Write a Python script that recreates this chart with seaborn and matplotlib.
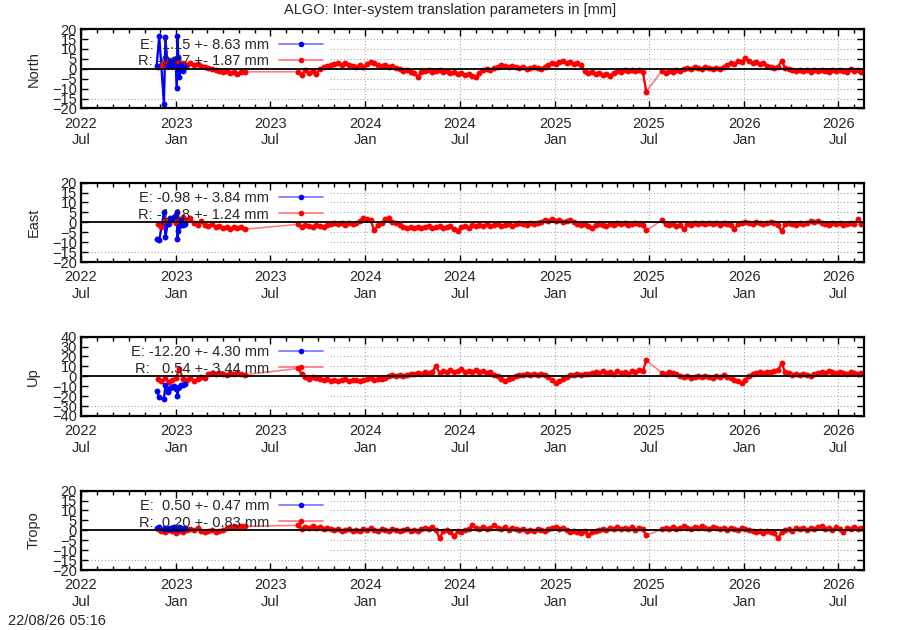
import pandas as pd
import seaborn as sns
import matplotlib.pyplot as plt
import matplotlib.dates as mdates
from matplotlib.lines import Line2D

# epochs of the E solution (only a few weeks at the start)
e_dates = ["2022-11-24", "2022-11-29", "2022-12-08", "2022-12-11", "2022-12-15",
           "2022-12-19", "2022-12-23", "2022-12-27", "2022-12-31", "2023-01-02",
           "2023-01-03", "2023-01-05", "2023-01-07", "2023-01-10", "2023-01-14",
           "2023-01-18"]
north_e = [1.5, 16.5, -17.5, 16.0, 1.5, 4.0, 2.0, 5.0, 1.0, -9.5, 16.5, 6.0, -4.0, 2.0, -1.0, 1.0]
east_e = [-8.5, -9.0, 5.0, -7.5, -1.0, 2.0, 1.5, 2.5, 3.5, 5.0, -8.5, -4.5, -2.0, 1.0, -1.5, -1.0]
up_e = [-15.0, -20.5, -23.0, -9.0, -15.5, -12.0, -11.0, -10.0, -13.0, -12.0, -20.0, -12.0,
        -11.0, -9.0, -8.5, -8.0]
tropo_e = [1.0, 1.5, 0.5, 1.0, 0.5, 1.0, 0.5, 1.5, 1.0, 0.5, 1.0, 0.5, 1.5, 1.0, 0.5, 1.0]

# R solution, weekly values, three blocks separated by data gaps
r_starts = ["2022-11-26", "2023-08-24", "2025-07-26"]

north_r = [
    [1.0, 2.0, 2.5, 4.5, 2.0, 3.5, 2.5, 3.0, 2.0, 3.0, 2.0, 2.5, 1.5, 1.0, 0.5, 0.0, -0.5,
     -1.0, -1.5, -1.0, -2.0, -1.5, -2.5, -1.5, -1.5],
    [-1.5, -3.0, -0.5, -2.0, -1.0, -2.5, 0.0, 1.0, 1.5, 2.0,
     2.5, 3.0, 2.0, 3.0, 2.0, 1.5, 1.0, 2.0, 1.0, 2.5,
     3.5, 3.0, 2.0, 1.5, 2.0, 1.0, 1.5, 0.5, 0.0, -1.0,
     -0.5, -1.5, -2.0, -4.0, -1.5, -1.0, -0.5, -1.5, -1.0, -0.5,
     -1.5, -1.0, -2.0, -1.5, -2.5, -2.0, -3.0, -2.5, -3.5, -4.0,
     -2.0, -0.5, 0.0, -0.5, 0.5, 1.0, 2.0, 1.5, 1.0, 1.5,
     1.0, 0.5, 1.0, 0.0, 0.5, 1.0, 0.5, 0.0, 1.0, 2.0,
     3.0, 2.5, 3.5, 4.0, 3.0, 3.5, 2.5, 3.0, 2.0, -1.0,
     -2.0, -1.5, -2.5, -2.0, -3.0, -2.5, -3.5, -2.0, -1.0, -1.5,
     -0.5, -1.0, -0.5, -1.0, -0.5, -1.5, -11.5],
    [-1.0, -2.0, -1.0, -1.5, -0.5, -1.0, 0.0, 0.5, 0.0, 1.0,
     0.5, 0.0, 1.0, 0.5, 0.0, 0.5, 0.0, 1.0, 2.0, 3.0,
     2.5, 4.0, 3.5, 5.5, 4.0, 3.0, 3.5, 2.5, 3.0, 1.5,
     1.0, 0.5, 1.0, 4.0, 0.5, 0.0, -0.5, -1.0, -0.5, -1.0,
     -0.5, -1.5, -0.5, -1.0, -0.5, -1.0, -1.5, -0.5, -1.0, -0.5,
     -1.0, -1.5, 0.0, -1.0, -0.5, -1.5],
]
east_r = [
    [-1.0, -2.5, 0.5, -1.0, 1.0, -0.5, 1.5, 2.5, 1.0, 2.0, -0.5, -1.5, 0.5, -1.5, -2.0,
     -1.0, -2.5, -2.0, -3.0, -2.5, -3.5, -2.5, -3.0, -2.5, -3.5],
    [-1.0, -2.5, -1.5, -2.0, -2.5, -1.5, -2.0, -2.5, -1.5, -1.0,
     -0.5, -1.0, -0.5, -1.5, -0.5, -1.0, -0.5, 0.5, 2.0, 1.5,
     1.0, -4.0, -1.5, -0.5, 1.5, 2.0, 0.0, -0.5, -1.5, -2.5,
     -3.0, -2.5, -3.0, -2.5, -3.0, -2.5, -2.0, -3.0, -2.5, -2.0,
     -3.0, -2.5, -2.0, -3.5, -4.5, -2.5, -2.0, -3.0, -1.5, -2.0,
     -1.5, -2.0, -1.0, -2.0, -1.5, -1.0, -2.0, -1.5, -1.0, -2.0,
     -1.0, -0.5, -1.0, -1.5, -0.5, -1.0, -0.5, 0.0, 1.0, 0.5,
     1.5, 0.5, 1.0, 0.0, 0.5, 1.0, 0.0, -1.0, -1.5, -1.0,
     -2.0, -3.0, -1.5, -1.0, -1.5, -2.0, -1.0, -1.5, -0.5, -1.0,
     -0.5, -1.5, -1.0, -0.5, -1.0, -1.5, -4.0],
    [1.0, -1.0, -1.5, -1.0, -2.0, -1.5, -3.5, -1.0, -1.5, -0.5,
     -1.0, -0.5, -1.0, -0.5, -1.0, -0.5, -1.5, -0.5, -1.0, -1.5,
     -3.5, -1.0, -0.5, 0.0, -0.5, -1.0, 0.0, -0.5, -1.0, -0.5,
     0.0, -0.5, -1.5, -4.5, -1.0, -0.5, -1.0, -1.5, -0.5, -1.0,
     -0.5, 0.5, 0.0, 0.5, -0.5, -1.0, -1.5, -0.5, -1.0, -0.5,
     -1.5, -1.0, -0.5, -1.0, 1.5, -1.0],
]
up_r = [
    [-3.0, -5.0, -2.0, -6.0, -3.5, -1.5, 7.0, -2.5, -4.0, -2.0, -5.0, -3.0, -1.0, -2.0,
     2.0, 3.0, 2.0, 3.5, 2.5, 1.5, 3.0, 2.0, 3.5, 2.0, 1.5],
    [8.0, 2.0, -1.0, -2.5, -1.0, -2.0, -3.0, -4.0, -3.0, -4.5,
     -3.5, -5.0, -4.0, -3.0, -5.0, -4.0, -3.5, -5.0, -4.0, -3.0,
     -2.0, -3.5, -2.5, -3.0, -1.5, 0.0, 1.0, 0.5, 1.5, 0.0,
     1.0, 2.0, 2.5, 3.5, 2.5, 4.0, 3.0, 4.5, 10.5, 3.5,
     5.0, 4.0, 6.0, 4.5, 5.5, 7.0, 4.5, 5.5, 4.0, 6.0,
     4.5, 5.0, 3.0, 4.0, 1.5, 0.0, -3.0, -5.0, -2.5, -1.5,
     0.5, 1.5, 1.0, 2.0, 1.0, 2.5, 1.0, 2.0, 1.5, -1.0,
     -4.0, -6.5, -5.0, -3.0, -0.5, 1.5, 1.0, 2.0, 1.5, 2.5,
     2.0, 3.0, 4.0, 3.0, 5.0, 3.5, 4.0, 2.5, 5.0, 3.0,
     4.5, 2.0, 5.5, 4.0, 6.0, 5.0, 16.0],
    [3.5, 2.5, 4.0, 3.0, 2.0, 0.0, -1.0, 0.5, -2.0, -0.5,
     0.0, -1.0, 0.5, -0.5, -1.5, 0.0, -0.5, 1.0, -1.0, -2.0,
     -3.5, -5.0, -7.0, -4.0, 0.5, 2.5, 3.5, 4.0, 3.0, 4.5,
     4.0, 5.0, 6.0, 13.0, 4.0, 3.0, 1.5, 2.0, 1.0, 2.5,
     1.5, 0.5, 2.0, 3.0, 4.5, 3.5, 5.0, 4.0, 3.0, 4.5,
     3.5, 2.5, 4.0, 3.0, 2.0, 3.0],
]
tropo_r = [
    [0.5, -0.5, -1.0, 0.0, -0.5, -1.5, -0.5, -1.0, 0.0, 0.5, 0.0, 1.0, -0.5, -1.0, -0.5,
     0.0, -1.0, -0.5, 0.0, 1.0, 1.5, 2.0, 1.5, 2.0, 2.0],
    [2.5, 0.5, 1.5, 1.0, 2.0, 1.0, 1.5, 0.5, 1.0, 0.5,
     0.0, 0.5, -0.5, 0.0, 0.5, -0.5, 0.0, -0.5, 0.5, 0.0,
     1.0, 0.0, -0.5, 0.5, 0.0, -0.5, 0.5, 0.0, -0.5, 0.0,
     0.5, -0.5, 0.0, -0.5, 0.5, 1.0, 0.5, 1.5, 0.0, -4.0,
     -0.5, 0.0, -1.0, -3.0, -0.5, -1.0, 0.0, 0.5, 2.5, 1.0,
     0.5, 1.5, 0.5, 1.0, 2.5, 1.0, 0.5, 1.5, 0.0, 1.0,
     0.5, 0.0, 0.5, -0.5, 0.0, -0.5, 0.5, 0.0, -0.5, 0.5,
     1.0, 1.5, 0.5, 1.0, 0.0, -1.0, -0.5, -1.0, -1.5, -0.5,
     -2.5, -1.0, -0.5, 0.0, 0.5, 0.0, 1.0, 0.5, 1.5, 0.5,
     1.0, 0.5, 1.5, 0.0, 1.0, 0.5, -2.5],
    [0.5, 1.0, 0.5, 1.5, 0.5, 1.0, 2.0, 1.0, 0.5, 1.5,
     1.0, 2.0, 1.0, 0.5, 1.5, 1.0, 0.5, 1.0, 0.0, 1.0,
     0.5, 0.0, 1.0, 0.5, 0.0, -0.5, -1.0, -0.5, -1.5, -0.5,
     -1.0, -1.5, -4.0, -1.0, 0.0, 0.5, -0.5, 1.0, 0.5, 1.0,
     0.0, 1.0, 0.5, 1.5, 2.0, 0.5, 1.0, 0.0, 1.5, 0.5,
     -1.0, 1.0, 0.5, 1.5, 0.5, 1.0],
]

panels = ["North", "East", "Up", "Tropo"]
e_vals = [north_e, east_e, up_e, tropo_e]
r_vals = [north_r, east_r, up_r, tropo_r]
e_labels = ["E:  1.15 +- 8.63 mm", "E: -0.98 +- 3.84 mm", "E: -12.20 +- 4.30 mm", "E:  0.50 +- 0.47 mm"]
r_labels = ["R: -0.07 +- 1.87 mm", "R: -1.18 +- 1.24 mm", "R:   0.54 +- 3.44 mm", "R:  0.20 +- 0.83 mm"]
y_limits = [20, 20, 40, 20]
y_steps = [5, 5, 10, 5]

sns.set_theme(style="white")
plt.rcParams["font.family"] = ["Liberation Sans", "DejaVu Sans"]
plt.rcParams["font.size"] = 10.5

x_min, x_max = pd.Timestamp("2022-07-01"), pd.Timestamp("2026-08-20")
grid_from = pd.Timestamp("2023-10-24")
e_col, r_col = (0.0, 0.0, 1.0), (1.0, 0.0, 0.0)
grid_kw = dict(colors="#a8a8a8", linestyles=(0, (1, 2)), lw=0.8, zorder=0.5)

fig = plt.figure(figsize=(9, 6.3), dpi=100)
bottoms = [0.8278, 0.5841, 0.3397, 0.0952]

for i, name in enumerate(panels):
    ax = fig.add_axes([0.09, bottoms[i], 0.87, 0.126])
    lim, step = y_limits[i], y_steps[i]
    yt = list(range(-lim, lim + 1, step))

    # dotted grid, hidden behind the key area on the left
    ax.hlines(yt, grid_from, x_max, **grid_kw)
    ax.hlines([yt[1]], x_min, grid_from, **grid_kw)
    six_month = pd.date_range("2024-01-01", x_max, freq="6MS")
    ax.vlines(six_month, -lim, lim, **grid_kw)

    e_df = pd.DataFrame({"date": pd.to_datetime(e_dates), "val": e_vals[i], "block": 0})
    r_df = pd.concat([
        pd.DataFrame({"date": pd.date_range(s, periods=len(v), freq="7D"), "val": v, "block": b})
        for b, (s, v) in enumerate(zip(r_starts, r_vals[i]))
    ], ignore_index=True)

    for df, col in [(r_df, r_col), (e_df, e_col)]:
        # light line joining everything (also across gaps)
        sns.lineplot(data=df, x="date", y="val", ax=ax, color=col, alpha=0.5, lw=1.2,
                     estimator=None, legend=False, zorder=2)
        # solid line within each block of data
        sns.lineplot(data=df, x="date", y="val", units="block", ax=ax, color=col, lw=1.6,
                     estimator=None, legend=False, zorder=2.1)
        sns.scatterplot(data=df, x="date", y="val", ax=ax, color=col, s=18, linewidth=0,
                        legend=False, zorder=2.2)

    ax.axhline(0, color="black", lw=1.3, zorder=2.5)

    ax.set_xlim(x_min, x_max)
    ax.set_ylim(-lim, lim)
    ax.set_yticks(yt)
    ax.xaxis.set_major_locator(mdates.MonthLocator(bymonth=[1, 7]))
    ax.xaxis.set_major_formatter(mdates.DateFormatter("%Y\n%b"))
    ax.xaxis.set_minor_locator(mdates.MonthLocator())
    ax.tick_params(which="both", direction="in", top=True, right=True, bottom=True, left=True,
                   color="black", width=1.0)
    ax.tick_params(which="major", length=5)
    ax.tick_params(which="minor", length=3)
    ax.tick_params(axis="x", which="major", pad=6, labelsize=10.5)
    ax.tick_params(axis="y", which="major", pad=3, labelsize=10.5)
    for sp in ax.spines.values():
        sp.set_linewidth(1.6)
        sp.set_color("black")
    ax.set_xlabel("")
    ax.set_ylabel(name, fontsize=10.5)
    ax.yaxis.set_label_coords(-0.052, 0.5)

    handles = [
        Line2D([], [], color=e_col + (0.55,), lw=1.2, marker="o", markersize=3,
               markerfacecolor=e_col, markeredgecolor=e_col),
        Line2D([], [], color=r_col + (0.55,), lw=1.2, marker="o", markersize=3,
               markerfacecolor=r_col, markeredgecolor=r_col),
    ]
    ax.legend(handles, [e_labels[i], r_labels[i]], loc="upper right",
              bbox_to_anchor=(0.3091, 0.89), frameon=False, markerfirst=False,
              borderpad=0, borderaxespad=0, handlelength=3.0, handletextpad=0.7,
              labelspacing=0.15, fontsize=10.5)

fig.text(0.5, 1 - 10 / 630, "ALGO: Inter-system translation parameters in [mm]",
         ha="center", va="center", fontsize=10.5)
fig.text(8 / 900, 1 - 621 / 630, "22/08/26 05:16", ha="left", va="center", fontsize=10.5)

fig.savefig("out.png", dpi=100)
